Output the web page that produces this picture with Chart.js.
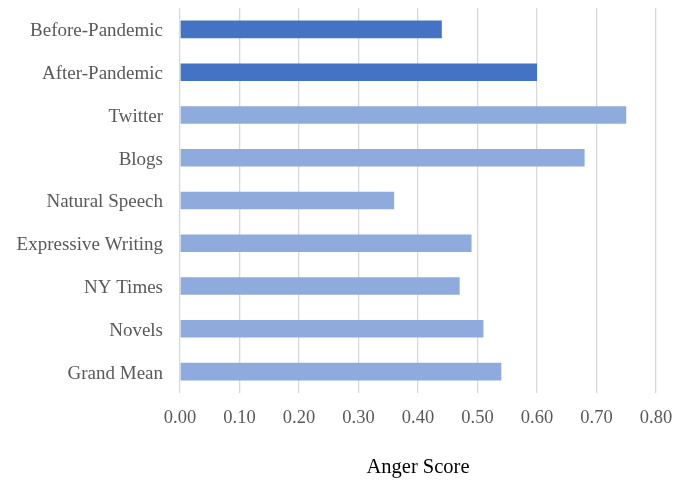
<!DOCTYPE html>
<html>
<head>
<meta charset="utf-8">
<title>Anger Score</title>
<script src="https://cdn.jsdelivr.net/npm/chart.js@4/dist/chart.umd.min.js"></script>
<style>
  html, body { margin: 0; padding: 0; background: #fff; }
  #wrap { width: 675px; height: 484px; position: relative; }
</style>
</head>
<body>
<div id="wrap"><canvas id="angerChart"></canvas></div>
<script>
"use strict"

// sources, top to bottom
let categories = [
    "Before-Pandemic",
    "After-Pandemic",
    "Twitter",
    "Blogs",
    "Natural Speech",
    "Expressive Writing",
    "NY Times",
    "Novels",
    "Grand Mean"
];

// mean anger score per source
let angerScores = [0.44, 0.60, 0.75, 0.68, 0.36, 0.49, 0.47, 0.51, 0.54];

// the two pandemic periods get the darker blue
let pandemicPeriods = ["Before-Pandemic", "After-Pandemic"];

let xTicks = [0, 0.1, 0.2, 0.3, 0.4, 0.5, 0.6, 0.7, 0.8];

const serif = "'Liberation Serif', 'Times New Roman', serif";
const labelGrey = "#595959";

let barColors = [];
for (let i = 0; i < categories.length; i++) {
    barColors.push(pandemicPeriods.includes(categories[i]) ? "#4472C4" : "#8FAADC");
}

const ctx = document.getElementById("angerChart").getContext("2d");
const angerChart = new Chart(ctx, {
    type: "bar",
    data: {
        labels: categories,
        datasets: [{
            label: "Anger Score",
            data: angerScores,
            backgroundColor: barColors,
            borderWidth: 0,
            categoryPercentage: 1,
            barPercentage: 0.41
        }]
    },
    options: {
        indexAxis: "y",
        responsive: true,
        maintainAspectRatio: false,
        animation: false,
        layout: {
            padding: { top: 8, right: 19, left: 0, bottom: 0 }
        },
        plugins: {
            legend: { display: false },
            tooltip: { enabled: false }
        },
        scales: {
            x: {
                min: 0,
                max: 0.8,
                afterBuildTicks: function (scale) {
                    scale.ticks = xTicks.map(function (v) { return { value: v }; });
                },
                afterFit: function (scale) {
                    // fixed axis band, no label overhang into the margins
                    scale.height = 91;
                    scale.paddingLeft = 0;
                    scale.paddingRight = 0;
                },
                grid: {
                    color: "#D9D9D9",
                    lineWidth: 1.3,
                    drawTicks: false
                },
                border: { display: false },
                ticks: {
                    padding: 14,
                    color: labelGrey,
                    font: { family: serif, size: 18.5 },
                    callback: function (value) {
                        return Number(value).toFixed(2);
                    }
                },
                title: {
                    display: true,
                    text: "Anger Score",
                    color: "#000",
                    font: { family: serif, size: 20.5 },
                    padding: { top: 0, bottom: 4 }
                }
            },
            y: {
                afterFit: function (scale) {
                    scale.width = 180;
                    scale.paddingTop = 0;
                    scale.paddingBottom = 0;
                },
                grid: { display: false, drawTicks: false },
                border: { display: false },
                ticks: {
                    padding: 17,
                    labelOffset: 2,
                    color: labelGrey,
                    font: { family: serif, size: 19 }
                }
            }
        }
    }
});
</script>
</body>
</html>
